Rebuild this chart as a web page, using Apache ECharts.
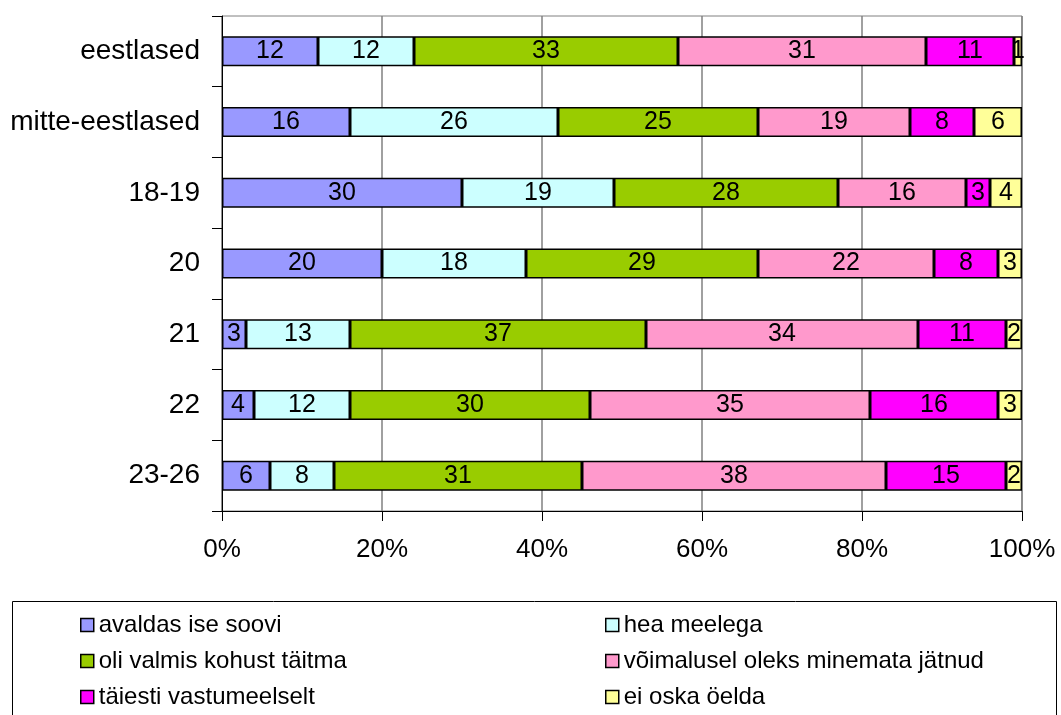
<!DOCTYPE html>
<html><head><meta charset="utf-8">
<script src="https://cdn.jsdelivr.net/npm/echarts@6/dist/echarts.min.js"></script>
<style>html,body{margin:0;padding:0;background:#fff}#c{width:1061px;height:715px}</style>
</head><body><div id="c"></div>
<script>
const categories = ['eestlased','mitte-eestlased','18-19','20','21','22','23-26'];
const seriesNames = ['avaldas ise soovi','hea meelega','oli valmis kohust täitma','võimalusel oleks minemata jätnud','täiesti vastumeelselt','ei oska öelda'];
const avaldas = [12,16,30,20,3,4,6];
const hea = [12,26,19,18,13,12,8];
const oli = [33,25,28,29,37,30,31];
const voimalusel = [31,19,16,22,34,35,38];
const taiesti = [11,8,3,8,11,16,15];
const eiOska = [1,6,4,3,2,3,2];
const xTicks = [0,20,40,60,80,100];
const colors = ['#9999FF','#CCFFFF','#99CC00','#FF99CC','#FF00FF','#FFFF99'];
const values = [avaldas,hea,oli,voimalusel,taiesti,eiOska];
const font = 'Liberation Sans, Arial, sans-serif';

const chart = echarts.init(document.getElementById('c'));
const legendCommon = {orient:'vertical',top:613,height:100,padding:0,itemGap:12,itemWidth:13,itemHeight:13,
  textStyle:{fontSize:24,lineHeight:24,color:'#000',fontFamily:font},
  icon:'rect',selectedMode:false,
  itemStyle:{borderColor:'#000',borderWidth:1.5}};
chart.setOption({
  animation:false,
  textStyle:{fontFamily:font},
  grid:{left:222,right:39,top:16,bottom:204,show:true,borderColor:'#808080',borderWidth:1,backgroundColor:'transparent'},
  xAxis:{type:'value',min:xTicks[0],max:xTicks[xTicks.length-1],interval:20,
    axisLine:{show:true,lineStyle:{color:'#000',width:1}},
    axisTick:{show:true,length:10,lineStyle:{color:'#000'}},
    axisLabel:{formatter:'{value}%',fontSize:26,color:'#000',margin:26,fontFamily:font},
    splitLine:{show:true,lineStyle:{color:'#808080',width:1.5}}},
  yAxis:{type:'category',data:categories,inverse:true,
    axisLine:{show:true,lineStyle:{color:'#000',width:1}},
    axisTick:{show:true,length:10,lineStyle:{color:'#000'}},
    axisLabel:{fontSize:28,color:'#000',margin:22,fontFamily:font},
    splitLine:{show:false}},
  legend:[
    Object.assign({data:[seriesNames[0],seriesNames[2],seriesNames[4]],left:80},legendCommon),
    Object.assign({data:[seriesNames[1],seriesNames[3],seriesNames[5]],left:605},legendCommon)
  ],
  graphic:[{type:'rect',shape:{x:12.5,y:601.5,width:1044,height:120},style:{fill:'none',stroke:'#000',lineWidth:1}}],
  series: seriesNames.map((n,i)=>({
    name:n,type:'bar',stack:'total',data:values[i],barWidth:30,
    itemStyle:{color:colors[i],borderColor:'#000',borderWidth:1.5},
    label:{show:true,position:'inside',color:'#000',fontSize:25,fontFamily:font}
  }))
});
</script></body></html>
